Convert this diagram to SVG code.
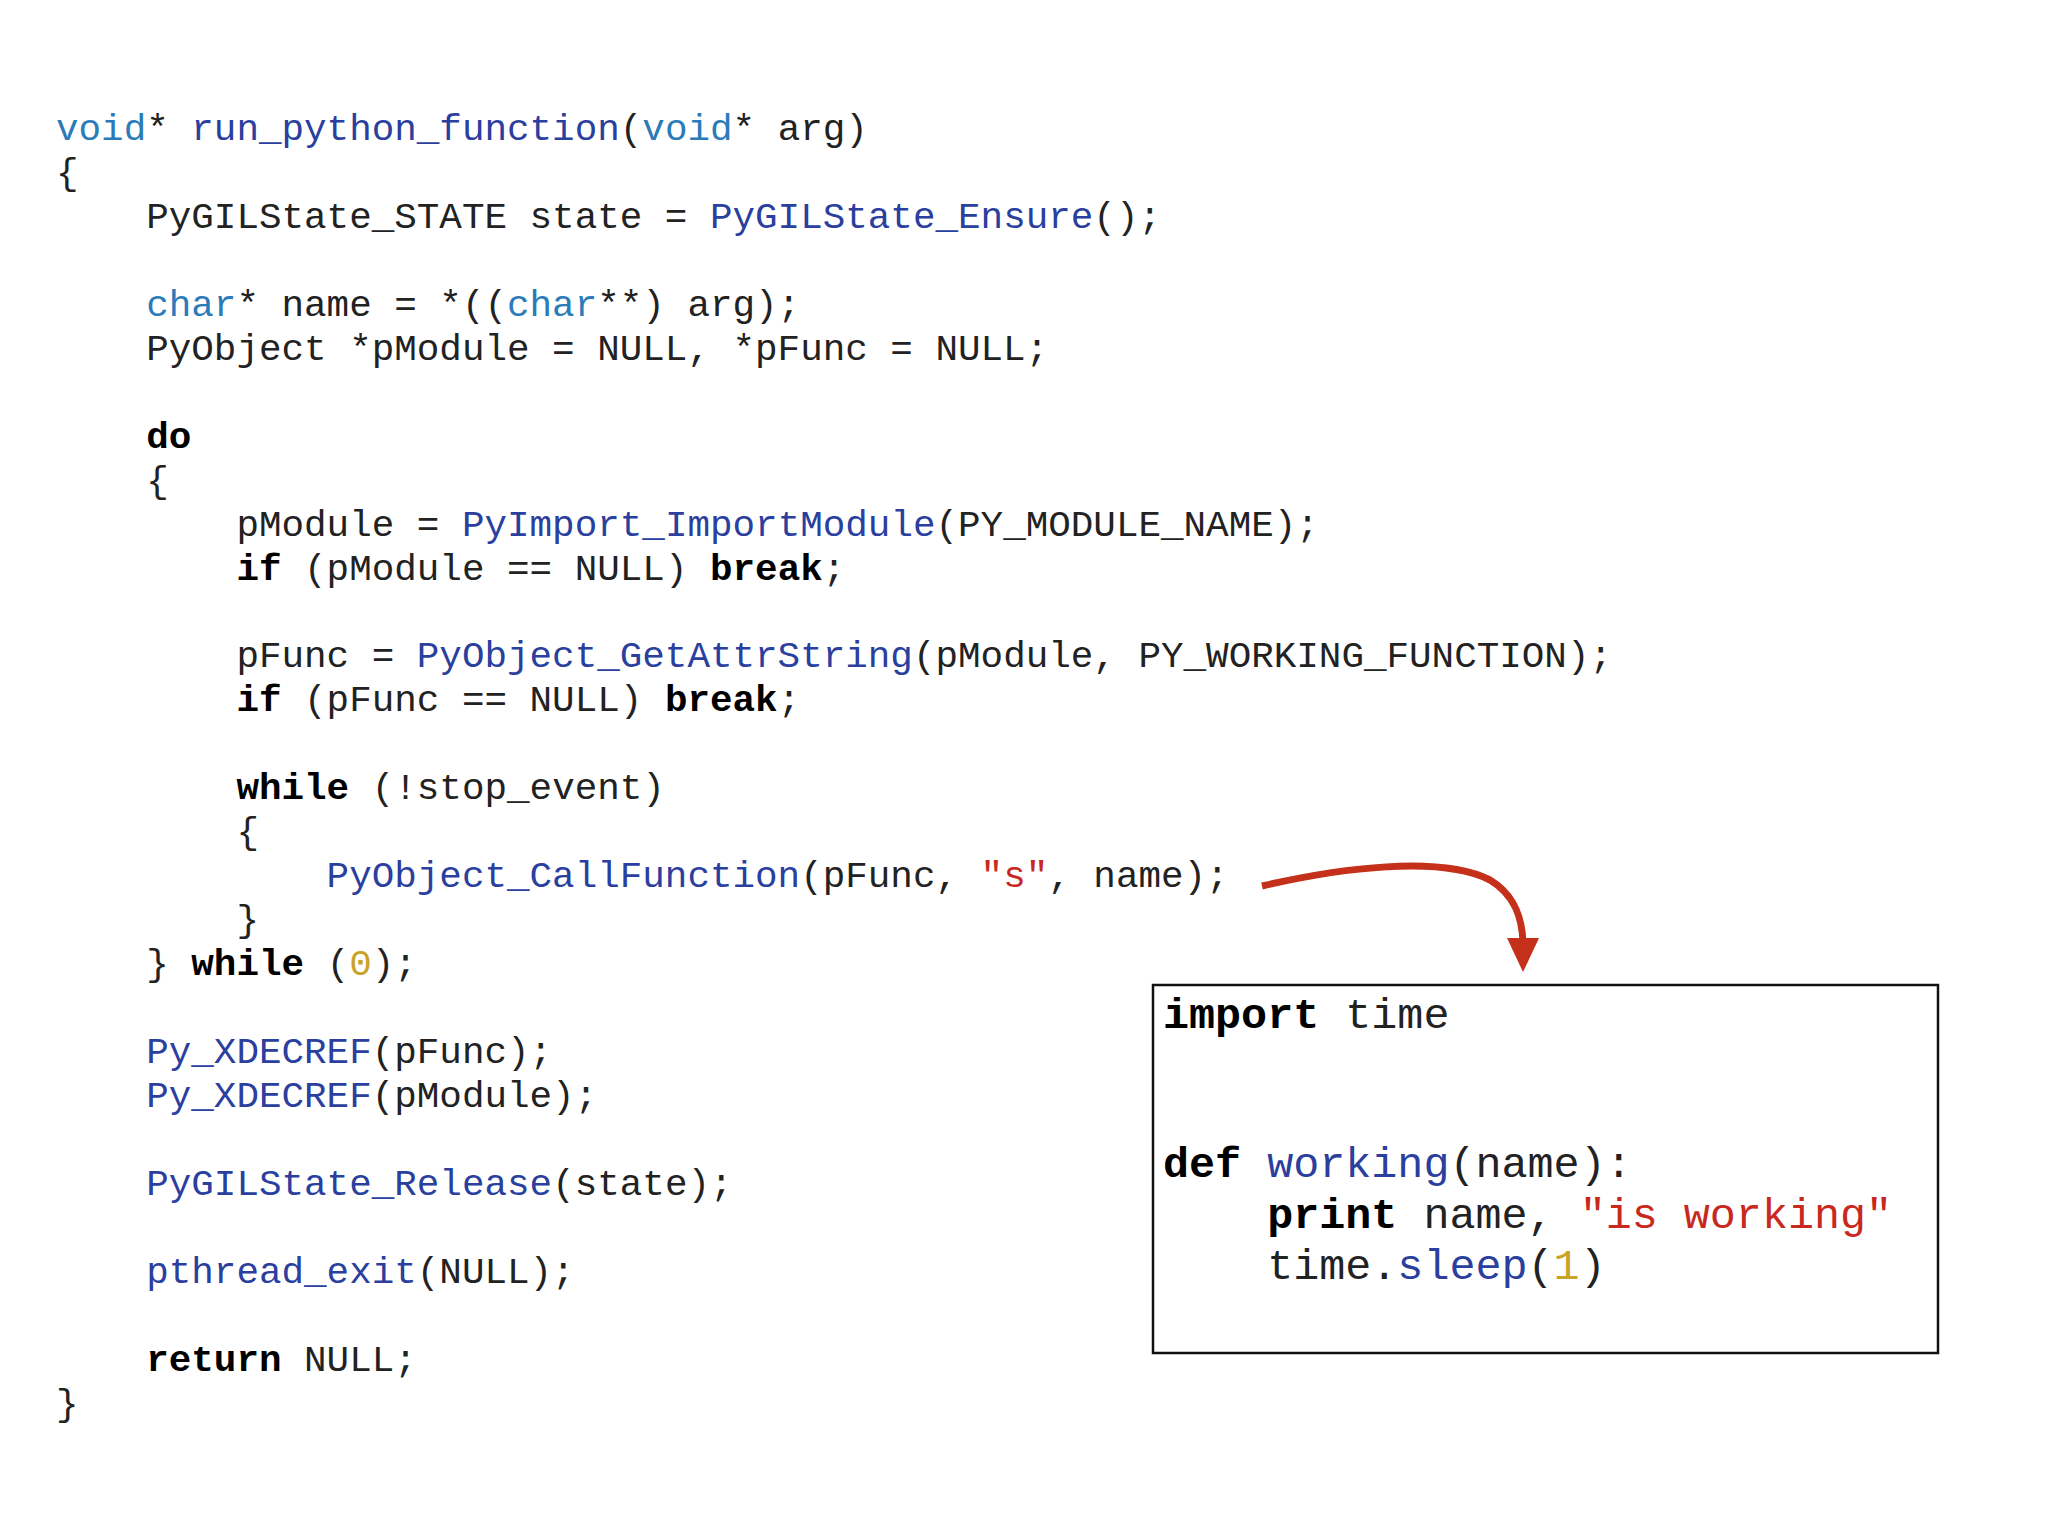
<svg xmlns="http://www.w3.org/2000/svg" width="2048" height="1536" viewBox="0 0 2048 1536">
<style>
text{font-family:"Liberation Mono","Courier New",monospace;font-size:37.6px;fill:#222;white-space:pre}
.py{font-size:43.4px}
.k{fill:#2b7bb9}
.f{fill:#2a3f9e}
.s{fill:#c8281e}
.n{fill:#c9a227}
.b{font-weight:bold;fill:#000}
</style>
<rect width="2048" height="1536" fill="#fff"/>
<g id="c-code" xml:space="preserve">
<text x="56" y="140"><tspan class="k">void</tspan>* <tspan class="f">run_python_function</tspan>(<tspan class="k">void</tspan>* arg)</text>
<text x="56" y="184">{</text>
<text x="56" y="228">    PyGILState_STATE state = <tspan class="f">PyGILState_Ensure</tspan>();</text>
<text x="56" y="316">    <tspan class="k">char</tspan>* name = *((<tspan class="k">char</tspan>**) arg);</text>
<text x="56" y="360">    PyObject *pModule = NULL, *pFunc = NULL;</text>
<text x="56" y="448">    <tspan class="b">do</tspan></text>
<text x="56" y="492">    {</text>
<text x="56" y="536">        pModule = <tspan class="f">PyImport_ImportModule</tspan>(PY_MODULE_NAME);</text>
<text x="56" y="580">        <tspan class="b">if</tspan> (pModule == NULL) <tspan class="b">break</tspan>;</text>
<text x="56" y="667">        pFunc = <tspan class="f">PyObject_GetAttrString</tspan>(pModule, PY_WORKING_FUNCTION);</text>
<text x="56" y="711">        <tspan class="b">if</tspan> (pFunc == NULL) <tspan class="b">break</tspan>;</text>
<text x="56" y="799">        <tspan class="b">while</tspan> (!stop_event)</text>
<text x="56" y="843">        {</text>
<text x="56" y="887">            <tspan class="f">PyObject_CallFunction</tspan>(pFunc, <tspan class="s">"s"</tspan>, name);</text>
<text x="56" y="931">        }</text>
<text x="56" y="975">    } <tspan class="b">while</tspan> (<tspan class="n">0</tspan>);</text>
<text x="56" y="1063">    <tspan class="f">Py_XDECREF</tspan>(pFunc);</text>
<text x="56" y="1107">    <tspan class="f">Py_XDECREF</tspan>(pModule);</text>
<text x="56" y="1195">    <tspan class="f">PyGILState_Release</tspan>(state);</text>
<text x="56" y="1283">    <tspan class="f">pthread_exit</tspan>(NULL);</text>
<text x="56" y="1371">    <tspan class="b">return</tspan> NULL;</text>
<text x="56" y="1415">}</text>
</g>
<g id="py-box" xml:space="preserve">
<rect x="1153" y="985" width="785" height="368" fill="none" stroke="#111" stroke-width="2.5"/>
<text class="py" x="1163" y="1028"><tspan class="b">import</tspan> time</text>
<text class="py" x="1163" y="1177"><tspan class="b">def</tspan> <tspan class="f">working</tspan>(name):</text>
<text class="py" x="1163" y="1228">    <tspan class="b">print</tspan> name, <tspan class="s">"is working"</tspan></text>
<text class="py" x="1163" y="1279">    time.<tspan class="f">sleep</tspan>(<tspan class="n">1</tspan>)</text>
</g>
<g id="connectors">
<path d="M1262 886 C1340 868 1440 855 1490 880 C1515 895 1522 918 1523 942" fill="none" stroke="#c4301a" stroke-width="7"/>
<polygon points="1507,938 1539,938 1523,972" fill="#c4301a"/>
</g>
</svg>
